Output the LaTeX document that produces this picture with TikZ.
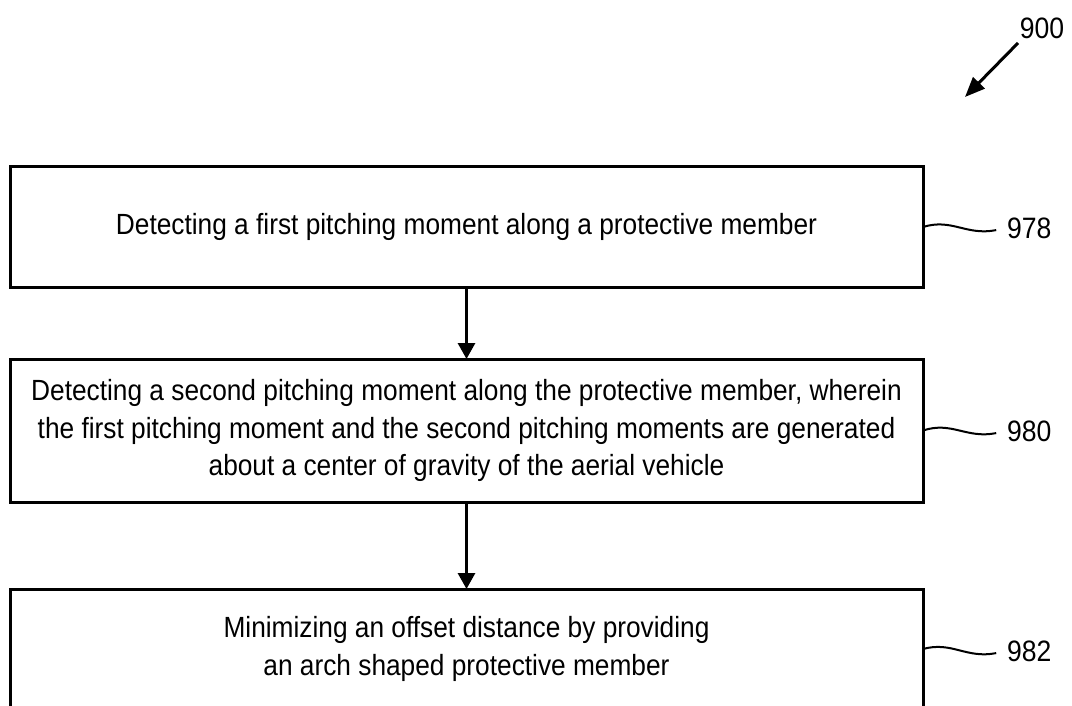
\documentclass[tikz,border=0pt]{standalone}
\usepackage{fontspec}
\setmainfont{Liberation Sans}[FakeStretch=0.9]
\usetikzlibrary{arrows.meta}
\begin{document}
\begin{tikzpicture}[x=1pt,y=-1pt,
  stepbox/.style={draw=black,line width=3pt,minimum width=913pt,inner sep=0pt,outer sep=0pt,
    align=center,font=\fontsize{29.2}{37.5}\selectfont},
  flow/.style={line width=3pt,-{Triangle[length=16pt,width=17pt]}},
  squig/.style={line width=2pt,shorten >=11pt},
  reflabel/.style={font=\fontsize{29.5}{32}\selectfont,anchor=west,inner sep=0pt}]
\clip (0,0) rectangle (1072,706);
\fill[white] (0,0) rectangle (1072,706);
\node[stepbox,minimum height=120pt] (b1) at (466.5,227) {Detecting a first pitching moment along a protective member};
\node[stepbox,minimum height=143pt] (b2) at (466.5,430.5) {Detecting a second pitching moment along the protective member, wherein\\ the first pitching moment and the second pitching moments are generated\\ about a center of gravity of the aerial vehicle};
\node[stepbox,minimum height=120pt] (b3) at (466.5,649) {Minimizing an offset distance by providing\\ an arch shaped protective member};
\draw[flow] (b1.south) -- (b2.north);
\draw[flow] (b2.south) -- (b3.north);
\node[reflabel] (l1) at (1007,228) {978};
\node[reflabel] (l2) at (1007,431) {980};
\node[reflabel] (l3) at (1007,651) {982};
\draw[squig] (b1.east) .. controls (952,218) and (966,236) .. (l1.west);
\draw[squig] (b2.east) .. controls (952,421) and (966,439) .. (l2.west);
\draw[squig] (b3.east) .. controls (952,641) and (966,659) .. (l3.west);
\node[reflabel,anchor=center] (l0) at (1042,28) {900};
\coordinate (a0) at (1018,43);
\coordinate (a1) at (965,97);
\draw[line width=3pt,-{Triangle[length=20pt,width=16pt]}] (a0) -- (a1);
\end{tikzpicture}
\end{document}
